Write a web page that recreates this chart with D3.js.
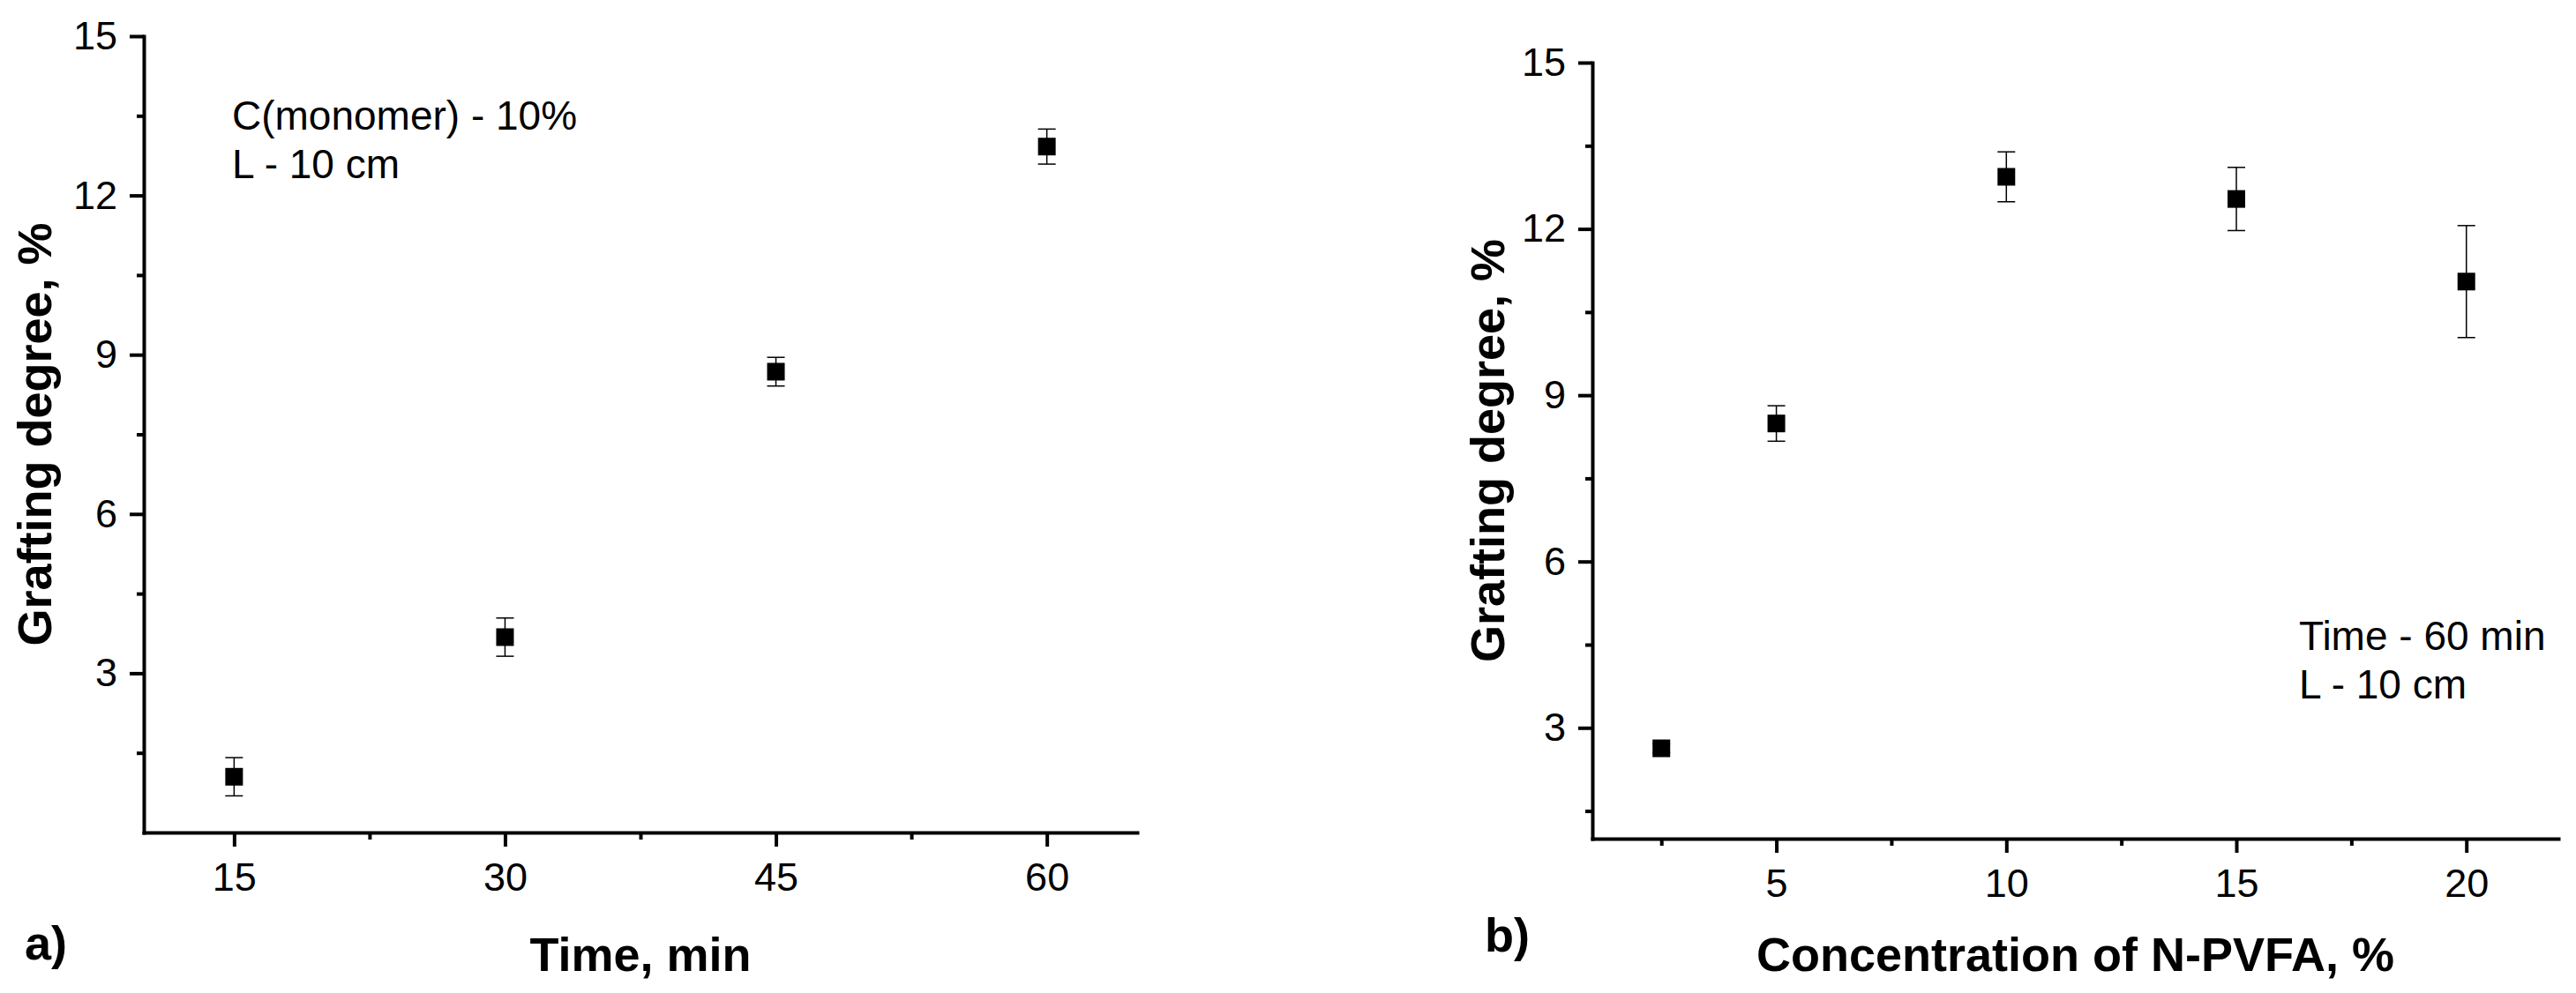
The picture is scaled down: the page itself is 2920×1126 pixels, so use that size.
<!DOCTYPE html>
<html>
<head>
<meta charset="utf-8">
<script src="https://cdn.jsdelivr.net/npm/d3@7"></script>
<style>
  body { margin: 0; background: #fff; }
  svg { display: block; }
  text { font-family: 'Liberation Sans', Arial, sans-serif; fill: #000; }
</style>
</head>
<body>
<div id="chart"></div>
<script>
// panel a) - grafting vs time
const timeMin = [15, 30, 45, 60];
const gradeTime = [1.05, 3.68, 8.68, 12.92];
const errTime = [0.36, 0.36, 0.27, 0.33];
const timeTicks = [15, 30, 45, 60];
const timeMinor = [22.5, 37.5, 52.5];

// panel b) - grafting vs monomer concentration
const concPct = [2.5, 5, 10, 15, 20];
const gradeConc = [2.63, 8.49, 12.94, 12.54, 11.05];
const errConc = [0.08, 0.32, 0.45, 0.57, 1.01];
const concTicks = [5, 10, 15, 20];
const concMinor = [2.5, 7.5, 12.5, 17.5];

const yTicks = [3, 6, 9, 12, 15];
const yMinor = [1.5, 4.5, 7.5, 10.5, 13.5];

const noteA = ['C(monomer) - 10%', 'L - 10 cm'];
const noteB = ['Time - 60 min', 'L - 10 cm'];

const W = 2920, H = 1126;

const svg = d3.select('#chart')
  .append('svg')
  .attr('width', W)
  .attr('height', H);

svg.append('rect').attr('width', W).attr('height', H).attr('fill', '#fff');

const drawPanel = (cfg) => {
  const x = d3.scaleLinear().domain(cfg.xDomain).range([cfg.left, cfg.right]);
  const y = d3.scaleLinear().domain(cfg.yDomain).range([cfg.bottom, cfg.top]);
  const g = svg.append('g');

  // minor ticks first, then major axis on top
  g.append('g')
    .attr('transform', `translate(0,${cfg.bottom})`)
    .call(d3.axisBottom(x).tickValues(cfg.xMinor).tickSize(8).tickFormat(''))
    .call((a) => a.select('.domain').remove());
  g.append('g')
    .attr('transform', `translate(${cfg.left},0)`)
    .call(d3.axisLeft(y).tickValues(yMinor).tickSize(8).tickFormat(''))
    .call((a) => a.select('.domain').remove());

  const xAxis = g.append('g')
    .attr('transform', `translate(0,${cfg.bottom})`)
    .call(d3.axisBottom(x).tickValues(cfg.xTicks).tickSize(16).tickSizeOuter(0).tickPadding(18));
  const yAxis = g.append('g')
    .attr('transform', `translate(${cfg.left},0)`)
    .call(d3.axisLeft(y).tickValues(yTicks).tickSize(16).tickSizeOuter(0).tickPadding(14));

  g.selectAll('.tick line').attr('stroke', '#000').attr('stroke-width', 4);
  g.selectAll('.domain').attr('stroke', '#000').attr('stroke-width', 4).attr('stroke-linecap', 'square');
  [xAxis, yAxis].forEach((a) => a.selectAll('text')
    .style('font-family', "'Liberation Sans', Arial, sans-serif")
    .style('font-size', '45px')
    .attr('fill', '#000'));

  // error bars
  const eb = g.append('g').attr('stroke', '#000').attr('stroke-width', 1.5);
  cfg.xs.forEach((xv, i) => {
    const yv = cfg.ys[i], e = cfg.errs[i];
    const cx = x(xv);
    eb.append('line').attr('x1', cx).attr('x2', cx).attr('y1', y(yv - e)).attr('y2', y(yv + e));
    [yv - e, yv + e].forEach((v) => {
      eb.append('line').attr('x1', cx - 10).attr('x2', cx + 10).attr('y1', y(v)).attr('y2', y(v));
    });
  });

  // square markers
  g.selectAll('rect.pt')
    .data(cfg.xs.map((xv, i) => [xv, cfg.ys[i]]))
    .enter()
    .append('rect')
    .attr('class', 'pt')
    .attr('x', (d) => x(d[0]) - 10)
    .attr('y', (d) => y(d[1]) - 10)
    .attr('width', 20)
    .attr('height', 20)
    .attr('fill', '#000');

  // axis titles
  g.append('text')
    .attr('x', (cfg.left + cfg.right) / 2)
    .attr('y', 1101)
    .attr('text-anchor', 'middle')
    .style('font-size', '54px')
    .style('font-weight', 'bold')
    .text(cfg.xTitle);
  g.append('text')
    .attr('transform', `translate(${cfg.yTitleX},${(cfg.top + cfg.bottom) / 2}) rotate(-90)`)
    .attr('text-anchor', 'middle')
    .style('font-size', '54px')
    .style('font-weight', 'bold')
    .text('Grafting degree, %');

  // panel letter
  g.append('text')
    .attr('x', cfg.letterX)
    .attr('y', cfg.letterY)
    .style('font-size', '54px')
    .style('font-weight', 'bold')
    .text(cfg.letter);

  // note
  g.selectAll('text.note')
    .data(cfg.note)
    .enter()
    .append('text')
    .attr('class', 'note')
    .attr('x', cfg.noteX)
    .attr('y', (d, i) => cfg.noteY + i * 55)
    .style('font-size', '46px')
    .text((d) => d);
};

drawPanel({
  left: 163, right: 1289, top: 41, bottom: 944,
  xDomain: [10, 65], yDomain: [0, 15],
  xTicks: timeTicks, xMinor: timeMinor,
  xs: timeMin, ys: gradeTime, errs: errTime,
  xTitle: 'Time, min', yTitleX: 58,
  letter: 'a)', letterX: 28, letterY: 1088,
  note: noteA, noteX: 263, noteY: 147
});

drawPanel({
  left: 1805, right: 2900, top: 71, bottom: 951,
  xDomain: [1, 22], yDomain: [1, 15],
  xTicks: concTicks, xMinor: concMinor,
  xs: concPct, ys: gradeConc, errs: errConc,
  xTitle: 'Concentration of N-PVFA, %', yTitleX: 1705,
  letter: 'b)', letterX: 1683, letterY: 1079,
  note: noteB, noteX: 2606, noteY: 737
});
</script>
</body>
</html>
